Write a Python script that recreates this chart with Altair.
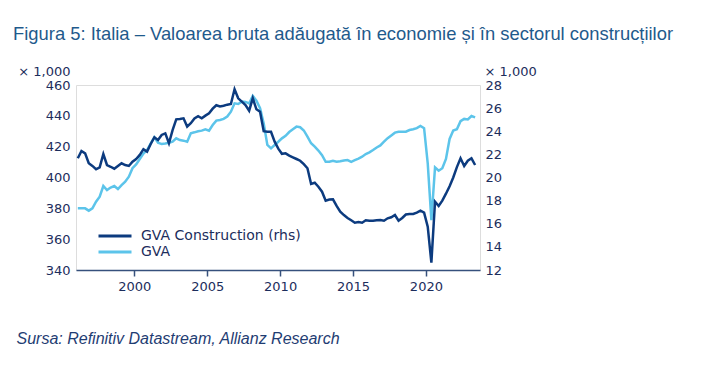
import altair as alt
import pandas as pd

# ---- data (quarterly, 1996Q1 .. 2023Q2) ----
start_year = 1996
gva_construction = [
    21.66, 22.29, 22.09, 21.23, 21.0, 20.71, 20.88, 22.03, 21.08, 20.93,
    20.76, 21.0, 21.23, 21.08, 21.0, 21.37, 21.6, 21.95, 22.45, 22.24,
    22.9, 23.48, 23.24, 23.68, 23.82, 22.96, 24.1, 25.03, 25.06, 25.12,
    24.4, 24.7, 25.1, 25.3, 25.12, 25.35, 25.55, 25.95, 26.25, 26.15,
    26.2, 26.3, 26.36, 27.63, 26.85, 26.56, 26.27, 25.78, 26.85, 25.9,
    25.69, 24.0, 23.95, 23.96, 23.1, 22.5, 22.05, 22.09, 21.9, 21.75,
    21.6, 21.45, 21.15, 20.8, 19.44, 19.55, 19.2, 18.77, 18.0, 18.1,
    18.11, 17.54, 17.05, 16.75, 16.5, 16.3, 16.09, 16.15, 16.09, 16.3,
    16.26, 16.26, 16.3, 16.32, 16.26, 16.47, 16.56, 16.76, 16.26, 16.5,
    16.8, 16.84, 16.85, 16.96, 17.13, 16.96, 15.75, 12.63, 17.91, 17.54,
    18.0, 18.6, 19.25, 20.0, 20.9, 21.66, 21.0, 21.45, 21.66, 21.08,
]
gva = [
    380.0, 380.0, 380.0, 378.5, 380.0, 384.3, 387.5, 394.5, 391.9, 393.5,
    394.5, 392.5, 395.1, 397.3, 400.5, 406.0, 408.5, 412.0, 415.5, 417.8,
    422.2, 426.1, 422.6, 421.7, 422.0, 422.5, 423.2, 425.4, 424.3, 423.9,
    423.2, 428.7, 429.3, 430.0, 430.4, 431.3, 430.4, 434.0, 436.9, 437.3,
    438.0, 439.5, 442.7, 448.1, 447.7, 449.2, 449.0, 448.0, 452.9, 449.8,
    444.9, 435.1, 421.1, 418.9, 421.1, 423.2, 425.4, 427.0, 429.5, 431.3,
    433.0, 432.6, 430.5, 426.5, 422.2, 420.0, 417.5, 414.5, 410.2, 410.2,
    410.9, 410.2, 410.5, 411.0, 411.3, 410.2, 411.3, 412.3, 413.5, 415.2,
    416.3, 417.8, 419.5, 420.8, 423.2, 425.5, 427.3, 429.1, 429.7, 429.7,
    429.7, 430.8, 431.3, 432.0, 433.4, 432.0, 409.2, 372.4, 406.6, 404.4,
    406.0, 412.0, 425.0, 430.5, 431.3, 436.5, 438.0, 437.7, 439.9, 439.0,
]
series_names = ["GVA Construction (rhs)", "GVA"]
x_ticks = [2000, 2005, 2010, 2015, 2020]
left_ticks = [340, 360, 380, 400, 420, 440, 460]
right_ticks = [12, 14, 16, 18, 20, 22, 24, 26, 28]

TITLE = "Figura 5: Italia – Valoarea bruta adăugată în economie și în sectorul construcțiilor"
SOURCE = "Sursa: Refinitiv Datastream, Allianz Research"

# ---- styles ----
DARK = "#0c3b7f"
LIGHT = "#5cc4ea"
AXIS = "#36507c"
LABEL = "#1c2d5c"
TITLE_COLOR = "#1f5a8c"
FONT = "DejaVu Sans"
SANS = "Liberation Sans"

t = [start_year + k / 4 + 0.125 for k in range(len(gva))]
df_c = pd.DataFrame({"t": t, "v": gva_construction, "series": series_names[0]})
df_g = pd.DataFrame({"t": t, "v": gva, "series": series_names[1]})

color = alt.Color(
    "series:N",
    scale=alt.Scale(domain=series_names, range=[DARK, LIGHT]),
    legend=alt.Legend(
        title=None, orient="none", legendX=32, legendY=144,
        symbolType="M-3,0H3", symbolSize=121, symbolStrokeWidth=3,
        labelFont=FONT, labelFontSize=14, labelColor=LABEL, labelOffset=19,
        rowPadding=2,
    ),
)

x = alt.X(
    "t:Q",
    scale=alt.Scale(domain=[1996, 2023.71], nice=False, zero=False),
    axis=alt.Axis(
        values=x_ticks, format="d", grid=False,
        domainColor=AXIS, domainWidth=1.5, tickColor=AXIS, tickWidth=1.5, tickSize=6,
        labelFont=FONT, labelFontSize=13, labelColor=LABEL, labelPadding=4,
        title=SOURCE, titleFont=SANS, titleFontSize=16, titleFontStyle="italic",
        titleFontWeight="normal", titleColor="#1f3d73", titleAnchor="start",
        titleAlign="left", titleX=-60, titleY=68, titleBaseline="middle",
    ),
)

gva_line = alt.Chart(df_g).mark_line(strokeWidth=2.5).encode(
    x=x,
    y=alt.Y(
        "v:Q",
        scale=alt.Scale(domain=[340, 460], nice=False, zero=False),
        axis=alt.Axis(
            orient="left", values=left_ticks, grid=False, domain=False, ticks=False,
            labelFont=FONT, labelFontSize=13, labelColor=LABEL, labelPadding=6,
            title="× 1,000", titleAngle=0, titleAlign="right", titleX=-6, titleY=-14,
            titleBaseline="middle", titleFont=FONT, titleFontSize=13,
            titleFontWeight="normal", titleColor=LABEL,
        ),
    ),
    color=color,
)

con_line = alt.Chart(df_c).mark_line(strokeWidth=2.5).encode(
    x=x,
    y=alt.Y(
        "v:Q",
        scale=alt.Scale(domain=[12, 28], nice=False, zero=False),
        axis=alt.Axis(
            orient="right", values=right_ticks, grid=False, domain=False, ticks=False,
            labelFont=FONT, labelFontSize=13, labelColor=LABEL, labelPadding=5,
            title="× 1,000", titleAngle=0, titleAlign="left", titleX=4, titleY=-14,
            titleBaseline="middle", titleFont=FONT, titleFontSize=13,
            titleFontWeight="normal", titleColor=LABEL,
        ),
    ),
    color=color,
)

chart = (
    alt.layer(gva_line, con_line)
    .resolve_scale(y="independent")
    .properties(
        width=404, height=185,
        title=alt.Title(
            TITLE, anchor="start", frame="group", dx=-63, offset=22,
            font=SANS, fontSize=18.4, fontWeight="normal", color=TITLE_COLOR,
        ),
        autosize=alt.AutoSizeParams(type="none"),
        padding={"left": 68, "top": 77, "right": 210, "bottom": 95},
    )
    .configure_view(strokeWidth=0)
    .configure(background="white")
)

chart.save("out.html", embed_options={"renderer": "svg", "actions": False})
